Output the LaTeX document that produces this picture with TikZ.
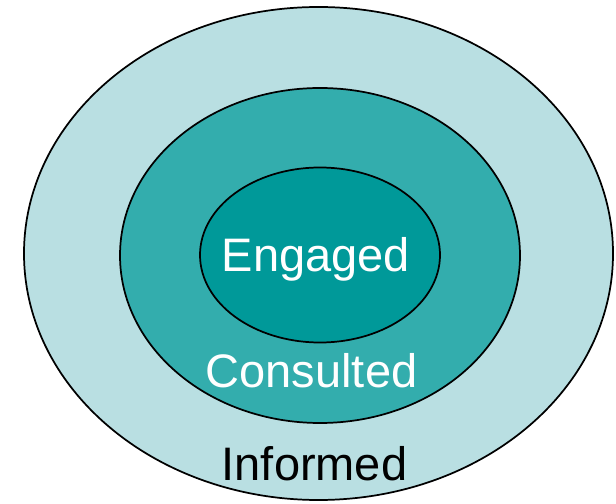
\documentclass[tikz,border=0pt]{standalone}
\usepackage{fontspec}
\setmainfont{Liberation Sans}
\usepackage{tikz}
\usetikzlibrary{positioning}
\definecolor{informedfill}{HTML}{B9DFE2}
\definecolor{consultedfill}{HTML}{33ADAD}
\definecolor{engagedfill}{HTML}{009999}
\tikzset{
    ring/.style={draw=black, line width=1.3pt},
    ringlabel/.style={anchor=base, inner sep=0pt,
        font=\fontsize{35.25}{40}\selectfont},
}

\begin{document}
\begin{tikzpicture}[x=0.75pt, y=0.75pt]
	\useasboundingbox (0,0) rectangle (616,503);
	\filldraw[ring, fill=informedfill] (318.5,249.5) ellipse [x radius=294.5, y radius=246.5];
	\filldraw[ring, fill=consultedfill] (320,247.5) ellipse [x radius=200, y radius=167.5];
	\filldraw[ring, fill=engagedfill] (320,248) ellipse [x radius=120, y radius=87.5];
	\node[ringlabel, white] (engaged) at (316,231) {Engaged};
	\node[ringlabel, white] (consulted) at (311.5,116) {Consulted};
	\node[ringlabel, black] (informed) at (314.5,23) {Informed};
\end{tikzpicture}
\end{document}
